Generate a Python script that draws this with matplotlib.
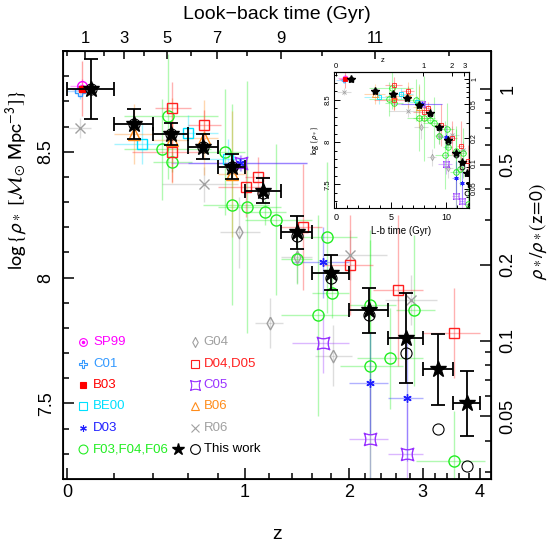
import numpy as np
import matplotlib
matplotlib.use("Agg")
import matplotlib.pyplot as plt
from matplotlib.path import Path

plt.rcParams['font.family'] = ['Liberation Sans', 'DejaVu Sans']
plt.rcParams['mathtext.fontset'] = 'stixsans'

# flat LCDM used for the look-back time axes
H0 = 68.0
OMEGA_M = 0.3
OMEGA_L = 0.7
LOGRHO_Z0 = 8.75   # log rho_* at z=0 (right-hand axis)

# ---------------- data: z, bin edges, log rho_*, error ----------------
work_z = [0.10, 0.30, 0.50, 0.70, 0.90, 1.15, 1.45, 1.80, 2.25, 2.75, 3.25, 3.75]
work_zlo = [0.0, 0.2, 0.4, 0.6, 0.8, 1.0, 1.3, 1.6, 2.0, 2.5, 3.0, 3.5]
work_zhi = [0.2, 0.4, 0.6, 0.8, 1.0, 1.3, 1.6, 2.0, 2.5, 3.0, 3.5, 4.0]
work_rho = [8.75, 8.61, 8.57, 8.52, 8.44, 8.345, 8.18, 8.02, 7.87, 7.76, 7.635, 7.50]
work_err = [0.12, 0.06, 0.045, 0.05, 0.05, 0.05, 0.065, 0.07, 0.09, 0.18, 0.14, 0.13]
work_alt_rho = [8.75, 8.61, 8.57, 8.52, 8.44, 8.337, 8.167, 8.0, 7.85, 7.70, 7.40, 7.25]

sp99_z = [0.06]
sp99_zlo = [0.01]
sp99_zhi = [0.10]
sp99_rho = [8.76]
sp99_err = [0.03]

c01_z = [0.05]
c01_zlo = [0.0]
c01_zhi = [0.10]
c01_rho = [8.74]
c01_err = [0.03]

b03_z = [0.06]
b03_zlo = [0.02]
b03_zhi = [0.10]
b03_rho = [8.75]
b03_err = [0.11]

be00_z = [0.34, 0.60, 0.87]
be00_zlo = [0.20, 0.45, 0.70]
be00_zhi = [0.50, 0.80, 1.00]
be00_rho = [8.53, 8.575, 8.47]
be00_err = [0.08, 0.07, 0.08]

d03_z = [0.96, 1.71, 2.26, 2.76]
d03_zlo = [0.60, 1.40, 2.00, 2.50]
d03_zhi = [1.55, 2.00, 2.50, 3.00]
d03_rho = [8.455, 8.06, 7.58, 7.52]
d03_err = [0.03, 0.14, 0.2, 0.25]

f03_z = [0.48, 0.45, 0.505, 0.85, 0.90, 1.02, 1.16, 1.26, 1.45, 1.75, 1.81, 1.66,
         2.26, 2.87, 2.52, 2.26, 3.52]
f03_zlo = [0.25, 0.25, 0.40, 0.70, 0.70, 0.80, 1.00, 1.00, 1.30, 1.50, 1.60, 1.30,
           2.00, 2.60, 2.10, 1.90, 2.90]
f03_zhi = [0.80, 0.75, 0.63, 1.00, 1.20, 1.30, 1.35, 1.60, 1.60, 2.10, 2.00, 2.00,
           2.60, 3.20, 3.00, 2.70, 4.10]
f03_rho = [8.64, 8.51, 8.46, 8.50, 8.29, 8.28, 8.26, 8.23, 8.075, 8.16, 7.94, 7.85,
           7.89, 7.87, 7.68, 7.65, 7.27]
f03_err = [0.25, 0.2, 0.04, 0.25, 0.4, 0.5, 0.05, 0.3, 0.1, 0.3, 0.1, 0.4,
           0.3, 0.3, 0.2, 0.5, 0.2]

g04_z = [0.955, 1.21, 1.82, 1.45]
g04_zlo = [0.815, 1.08, 1.63, 1.30]
g04_zhi = [1.12, 1.32, 2.04, 1.60]
g04_rho = [8.18, 7.82, 7.69, 8.08]
g04_err = [0.14, 0.1, 0.12, 0.1]

d04_z = [0.505, 0.505, 0.705, 1.01, 1.105, 1.51, 2.01, 2.63, 3.52]
d04_zlo = [0.41, 0.29, 0.60, 0.80, 1.00, 1.30, 1.70, 2.30, 3.00]
d04_zhi = [0.62, 0.72, 0.82, 1.15, 1.20, 1.70, 2.30, 3.00, 4.00]
d04_rho = [8.675, 8.50, 8.607, 8.36, 8.40, 8.20, 8.05, 7.95, 7.78]
d04_err = [0.1, 0.12, 0.06, 0.12, 0.08, 0.25, 0.2, 0.3, 0.18]

c05_z = [0.97, 1.71, 2.26, 2.76]
c05_zlo = [0.50, 1.40, 2.00, 2.50]
c05_zhi = [1.55, 2.00, 2.50, 3.00]
c05_rho = [8.455, 7.74, 7.36, 7.30]
c05_err = [0.03, 0.12, 0.2, 0.2]

b06_z = [0.30, 0.505, 0.705, 0.90]
b06_zlo = [0.20, 0.40, 0.60, 0.80]
b06_zhi = [0.40, 0.60, 0.80, 1.00]
b06_rho = [8.57, 8.545, 8.556, 8.413]
b06_err = [0.12, 0.17, 0.15, 0.25]

r06_z = [0.05, 0.705, 2.01, 2.82]
r06_zlo = [0.004, 0.45, 1.79, 2.46]
r06_zhi = [0.10, 0.95, 2.48, 3.23]
r06_rho = [8.595, 8.37, 8.09, 7.91]
r06_err = [0.04, 0.07, 0.1, 0.1]

ratio_ticks = [1, 0.5, 0.2, 0.1, 0.05]
ratio_minor = [0.03, 0.04, 0.06, 0.07, 0.08, 0.09, 0.3, 0.4, 0.6, 0.7, 0.8, 0.9]
lb_ticks = [1, 3, 5, 7, 9, 11]
lb_minor = [0, 2, 4, 6, 8, 10, 12]


def age(z):
    th = 977.8 / H0
    z = np.asarray(z, dtype=float)
    return 2 * th / (3 * np.sqrt(OMEGA_L)) * np.arcsinh(np.sqrt(OMEGA_L / OMEGA_M) * (1 + z) ** -1.5)


T0 = age(0.0)


def lookback(z):
    return T0 - age(z)


def z_of_lookback(lb):
    th = 977.8 / H0
    t = np.clip(T0 - np.asarray(lb, dtype=float), 1e-3, None)
    a = np.sinh(t * 3 * np.sqrt(OMEGA_L) / (2 * th)) / np.sqrt(OMEGA_L / OMEGA_M)
    return a ** (-2.0 / 3.0) - 1


def fwd(z):
    return np.log10(1 + np.asarray(z, dtype=float))


def inv(u):
    return 10 ** np.asarray(u, dtype=float) - 1


# concave square marker for C05
c05_marker = Path([(-1, -1), (0, -0.5), (1, -1), (0.5, 0), (1, 1), (0, 0.5), (-1, 1), (-0.5, 0), (-1, -1)],
                  [Path.MOVETO] + [Path.CURVE3] * 8)
diamond = [(0, 1), (0.55, 0), (0, -1), (-0.55, 0), (0, 1)]

surveys = [
    # name, z, zlo, zhi, rho, err, colour, marker, size, filled
    ("C01", c01_z, c01_zlo, c01_zhi, c01_rho, c01_err, "#3399ff", "P", 7, False),
    ("SP99", sp99_z, sp99_zlo, sp99_zhi, sp99_rho, sp99_err, "#ff00ff", "o", 7, False),
    ("B03", b03_z, b03_zlo, b03_zhi, b03_rho, b03_err, "#ff0000", "s", 5, True),
    ("R06", r06_z, r06_zlo, r06_zhi, r06_rho, r06_err, "#a0a0a0", "x", 7, False),
    ("G04", g04_z, g04_zlo, g04_zhi, g04_rho, g04_err, "#a0a0a0", diamond, 9, False),
    ("F03,F04,F06", f03_z, f03_zlo, f03_zhi, f03_rho, f03_err, "#22ee22", "o", 8, False),
    ("BE00", be00_z, be00_zlo, be00_zhi, be00_rho, be00_err, "#00e0ff", "s", 7, False),
    ("B06", b06_z, b06_zlo, b06_zhi, b06_rho, b06_err, "#ff8c1a", "^", 8, False),
    ("D04,D05", d04_z, d04_zlo, d04_zhi, d04_rho, d04_err, "#ff2020", "s", 7, False),
    ("C05", c05_z, c05_zlo, c05_zhi, c05_rho, c05_err, "#9933ff", c05_marker, 9, False),
    ("D03", d03_z, d03_zlo, d03_zhi, d03_rho, d03_err, "#2020ff", (6, 2, 0), 6, False),
]


def draw_surveys(ax, xconv, scale, lw):
    for name, z, zlo, zhi, rho, err, col, mk, ms, filled in surveys:
        x = xconv(np.array(z))
        xlo = xconv(np.array(zlo))
        xhi = xconv(np.array(zhi))
        ax.errorbar(x, rho, xerr=[x - xlo, xhi - x], yerr=err, fmt="none",
                    ecolor=col, alpha=0.35, elinewidth=lw, zorder=2)
        ax.plot(x, rho, ls="none", marker=mk, ms=ms * scale, mec=col,
                mfc=col if filled else "none", mew=0.8 * scale + 0.2, zorder=3)
        if name == "SP99":
            ax.plot(x, rho, ls="none", marker="o", ms=1.5 * scale, color=col, zorder=3)


fig = plt.figure(figsize=(5.5, 5.42), dpi=100)
ax = fig.add_axes([63 / 550, 63 / 542, 428 / 550, 428 / 542])
ax.set_xscale("function", functions=(fwd, inv))

draw_surveys(ax, lambda z: z, 1.0, 1.0)

wz = np.array(work_z)
ax.errorbar(wz, work_rho, xerr=[wz - np.array(work_zlo), np.array(work_zhi) - wz], yerr=work_err,
            fmt="*", color="k", ms=12, elinewidth=1.3, capsize=5, capthick=1.3, zorder=6)
ax.plot(wz, work_alt_rho, ls="none", marker="o", ms=8, mec="k", mfc="none", mew=0.8, zorder=5)

ax.set_xlim(-0.0155, 4.22)
ax.set_ylim(7.2, 8.9)
ax.set_xticks([0, 1, 2, 3, 4])
ax.set_xticks(np.arange(0.2, 4.0, 0.2), minor=True)
ax.set_xticklabels(["0", "1", "2", "3", "4"])
ax.set_yticks([7.5, 8, 8.5])
ax.set_yticklabels(["7.5", "8", "8.5"])
ax.set_yticks(np.arange(7.3, 8.9, 0.1), minor=True)
ax.tick_params(which="both", direction="in", labelsize=13, width=1.1)
ax.tick_params(which="major", length=8)
ax.tick_params(which="minor", length=4.5)
ax.tick_params(axis="y", labelrotation=90, pad=6)
for lab in ax.get_yticklabels():
    lab.set_va("center")
ax.set_xlabel("z", fontsize=14, labelpad=18)
ax.set_ylabel(r"$\log\{\rho_*\ [\mathcal{M}_{\odot}\ \mathrm{Mpc}^{-3}]\}$", fontsize=14.5, labelpad=6)
ax.yaxis.label.set_y(0.70)
for sp in ax.spines.values():
    sp.set_linewidth(1.3)

# right axis: rho / rho(z=0)
ax_r = ax.secondary_yaxis("right", functions=(lambda y: y - LOGRHO_Z0, lambda r: r + LOGRHO_Z0))
ax_r.set_yticks(np.log10(ratio_ticks))
ax_r.set_yticklabels([str(r) for r in ratio_ticks])
ax_r.set_yticks(np.log10(ratio_minor), minor=True)
ax_r.tick_params(which="both", direction="in", labelsize=13, width=1.1, labelrotation=90, pad=6)
ax_r.tick_params(which="major", length=8)
ax_r.tick_params(which="minor", length=4.5)
for lab in ax_r.get_yticklabels():
    lab.set_va("center")
ax_r.set_ylabel(r"$\rho_*/\rho_*(\mathrm{z\!=\!0})$", fontsize=14, labelpad=8)
ax_r.yaxis.label.set_y(0.577)

# top axis: look-back time
ax_t = ax.twiny()
ax_t.set_xscale("function", functions=(fwd, inv))
ax_t.set_xlim(ax.get_xlim())
ax_t.set_xticks(z_of_lookback(lb_ticks))
ax_t.set_xticklabels([str(t) for t in lb_ticks])
ax_t.set_xticks(z_of_lookback(lb_minor), minor=True)
ax_t.tick_params(which="both", direction="in", labelsize=12, width=1.1)
ax_t.tick_params(which="major", length=6)
ax_t.tick_params(which="minor", length=3.5)
ax_t.set_xlabel("Look\u2212back time (Gyr)", fontsize=14, labelpad=9)

# legend drawn by hand
col1 = ["SP99", "C01", "B03", "BE00", "D03", "F03,F04,F06"]
col2 = ["G04", "D04,D05", "C05", "B06", "R06"]
rows = [0.320, 0.269, 0.2196, 0.1706, 0.119, 0.070]
style = {s[0]: s for s in surveys}
for names, mx, tx in [(col1, 0.0467, 0.070), (col2, 0.308, 0.329)]:
    for name, yy in zip(names, rows):
        _, _, _, _, _, _, col, mk, ms, filled = style[name]
        ax.plot([mx], [yy], transform=ax.transAxes, marker=mk, ms=ms * 0.8, mec=col,
                mfc=col if filled else "none", mew=0.8, ls="none", clip_on=False)
        if name == "SP99":
            ax.plot([mx], [yy], transform=ax.transAxes, marker="o", ms=1.5, color=col)
        ax.text(tx, yy, name, transform=ax.transAxes, color=col, fontsize=9.5, va="center")
ax.plot([0.269], [rows[5]], transform=ax.transAxes, marker="*", ms=9, color="k", ls="none")
ax.plot([0.308], [rows[5]], transform=ax.transAxes, marker="o", ms=7, mec="k", mfc="none", mew=0.8, ls="none")
ax.text(0.329, rows[5], "This work", transform=ax.transAxes, color="k", fontsize=9.5, va="center")

# inset: same data versus look-back time
axi = fig.add_axes([334 / 550, 334 / 542, 135 / 550, 136 / 542])
axi.set_zorder(10)
axi.set_facecolor("white")
draw_surveys(axi, lookback, 0.5, 0.8)
axi.plot(lookback(wz), work_rho, ls="none", marker="*", ms=6, color="k", zorder=6)
axi.plot(lookback(wz), work_alt_rho, ls="none", marker="o", ms=3.5, mec="k", mfc="none", mew=0.6, zorder=5)
axi.set_xlim(-0.2, 12.1)
axi.set_ylim(7.22, 8.83)
axi.set_xticks([0, 5, 10])
axi.set_xticks(np.arange(1, 13), minor=True)
axi.set_yticks([7.5, 8, 8.5])
axi.set_yticklabels(["7.5", "8", "8.5"])
axi.set_yticks(np.arange(7.3, 8.85, 0.1), minor=True)
axi.tick_params(which="both", direction="in", labelsize=6.5, width=0.7)
axi.tick_params(which="major", length=4)
axi.tick_params(which="minor", length=2)
axi.tick_params(axis="y", labelrotation=90, labelsize=5.5, pad=2)
for lab in axi.get_yticklabels():
    lab.set_va("center")
axi.set_xlabel("L-b time (Gyr)", fontsize=7, labelpad=3)
axi.set_ylabel(r"$\log\{\rho_*\}$", fontsize=6, labelpad=2)

axi_t = axi.secondary_xaxis("top", functions=(z_of_lookback, lookback))
axi_t.set_xticks([0, 1, 2, 3, 4])
axi_t.tick_params(which="both", direction="in", labelsize=5.5, width=0.7, length=3, pad=1.5)
axi_t.set_xlabel("z", fontsize=5.5, labelpad=1)
axi_t.xaxis.label.set_x(0.36)
axi_r = axi.secondary_yaxis("right", functions=(lambda y: y - LOGRHO_Z0, lambda r: r + LOGRHO_Z0))
axi_r.set_yticks(np.log10(ratio_ticks))
axi_r.set_yticklabels([str(r) for r in ratio_ticks])
axi_r.set_yticks(np.log10(ratio_minor), minor=True)
axi_r.tick_params(which="both", direction="in", labelsize=5, width=0.7, labelrotation=90, pad=1.5)
axi_r.tick_params(which="major", length=3.5)
axi_r.tick_params(which="minor", length=2)
for lab in axi_r.get_yticklabels():
    lab.set_va("center")

fig.savefig("out.png", dpi=100)
